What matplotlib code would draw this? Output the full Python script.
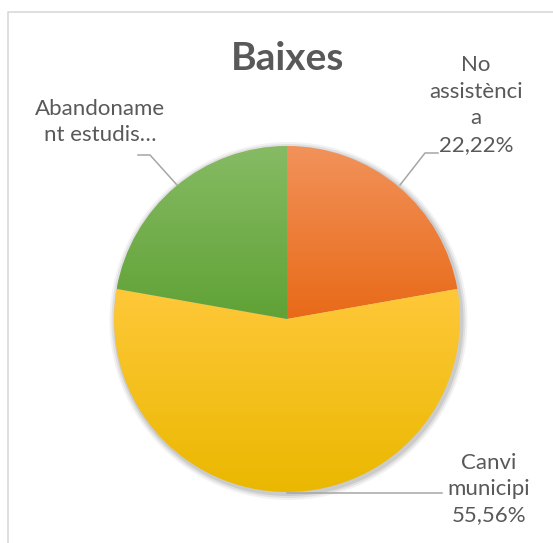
import numpy as np
import matplotlib.pyplot as plt
from matplotlib.colors import LinearSegmentedColormap
from matplotlib.patches import Circle

# dades
categories = ['No assistència', 'Canvi municipi', 'Abandonament estudis']
valors = [22.22, 55.56, 22.22]
colors_dalt = ['#F2925A', '#FFC83A', '#86BB64']
colors_baix = ['#E86A18', '#EAB800', '#60A236']
titol = 'Baixes'

W, H = 553, 543
fig = plt.figure(figsize=(W / 100, H / 100), dpi=100)
ax = fig.add_axes([0, 0, 1, 1])

def Y(y):
    return H - y

cx, cy, r = 287, Y(319), 173

# ombra suau
for k, a in zip([6, 4, 2], [0.05, 0.07, 0.09]):
    ax.add_patch(Circle((cx + 1.5, cy - 2), r + k, color='#000000', alpha=a, lw=0, zorder=0))

wedges, _ = ax.pie(valors, startangle=90, counterclock=False, center=(cx, cy),
                   radius=r, frame=True,
                   wedgeprops=dict(linewidth=0, edgecolor='none'))

# degradat vertical per cada porció
for w, c1, c2 in zip(wedges, colors_dalt, colors_baix):
    cmap = LinearSegmentedColormap.from_list('g', [c1, c2])
    bb = w.get_path().get_extents()
    grad = np.linspace(0, 1, 256).reshape(-1, 1)
    im = ax.imshow(grad, cmap=cmap, aspect='auto', origin='upper',
                   extent=[bb.x0, bb.x1, bb.y0, bb.y1], zorder=2)
    im.set_clip_path(w)
    w.set_facecolor('none')

ax.set_xlim(0, W)
ax.set_ylim(0, H)
ax.set_aspect('equal')
ax.axis('off')

txt = '#595959'
linia = '#A6A6A6'
fam = ['Lato', 'DejaVu Sans']

ax.text(288, Y(59), titol, ha='center', va='center', fontsize=28, fontweight='bold',
        color=txt, family=fam)

# etiquetes
ax.text(476, Y(105), 'No\nassistènci\na\n22,22%', ha='center', va='center',
        fontsize=16, color=txt, family=fam, linespacing=1.4)
ax.plot([400, 425, 438], [Y(185), Y(153), Y(153)], color=linia, lw=1.1, zorder=3)

ax.text(100, Y(122), 'Abandoname\nnt estudis…', ha='center', va='center',
        fontsize=16, color=txt, family=fam, linespacing=1.4)
ax.plot([177, 150, 138], [Y(185), Y(155), Y(155)], color=linia, lw=1.1, zorder=3)

ax.text(489, Y(489), 'Canvi\nmunicipi\n55,56%', ha='center', va='center',
        fontsize=16, color=txt, family=fam, linespacing=1.4)
ax.plot([287, 442], [Y(493), Y(493)], color=linia, lw=1.1, zorder=1)

# vora del gràfic
ax.plot([8, 8, W], [0, Y(12), Y(12)], color='#D9D9D9', lw=1.2, zorder=0)

fig.savefig('out.png', dpi=100)
